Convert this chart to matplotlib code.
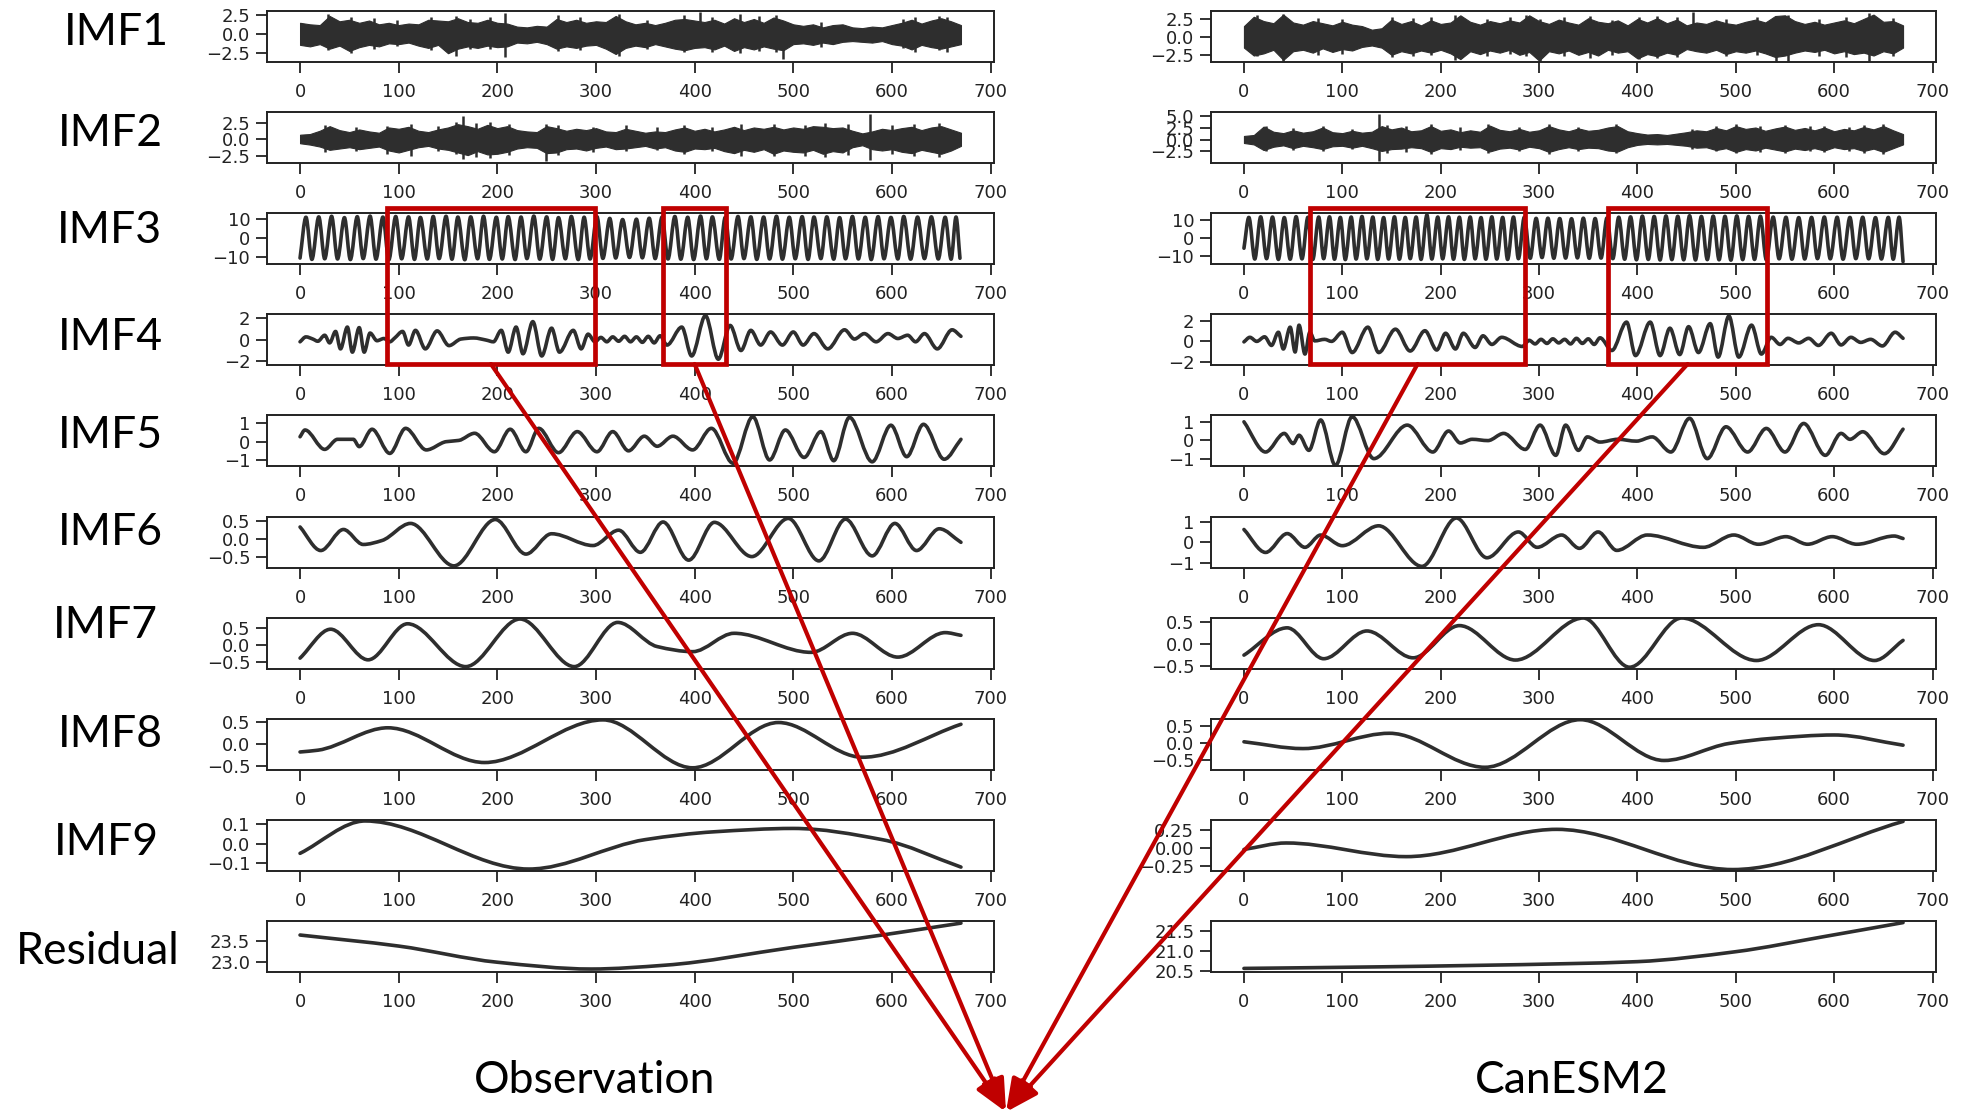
import numpy as np
import matplotlib.pyplot as plt
from matplotlib.path import Path
from matplotlib.patches import PathPatch, Rectangle, FancyArrowPatch

plt.rcParams['font.family'] = 'DejaVu Sans'

W, H = 1968, 1118
INK = '#2e2e2e'
RED = '#c00000'

ROWS = ['IMF1', 'IMF2', 'IMF3', 'IMF4', 'IMF5', 'IMF6', 'IMF7', 'IMF8', 'IMF9', 'Residual']
XTICKS = [0, 100, 200, 300, 400, 500, 600, 700]
GRID = np.arange(0, 671, 10)   # sample positions of the noise envelopes

# ---------------- Observation ----------------
OBS_IMF1_HI = [1.5, 1.3, 1.2, 2.4, 1.7, 1.9, 1.5, 1.8, 1.3, 1.5,
               1.2, 1.4, 1.3, 1.9, 1.8, 1.7, 2.1, 1.6, 1.5, 1.9,
               1.5, 1.4, 1.0, 0.9, 1.1, 1.0, 2.0, 1.6, 1.9, 1.5,
               1.7, 1.6, 2.4, 1.7, 1.3, 1.5, 1.2, 1.5, 1.9, 2.0,
               1.8, 1.6, 1.9, 1.4, 2.1, 1.6, 2.0, 1.5, 2.2, 1.8,
               1.3, 1.1, 1.3, 0.9, 1.2, 1.3, 0.9, 0.8, 1.0, 0.9,
               1.2, 1.5, 1.9, 1.4, 1.8, 2.1, 1.7, 1.2]
OBS_IMF1_LO = [-1.4, -1.6, -1.3, -1.9, -1.5, -2.2, -1.7, -1.4, -1.6, -1.2,
               -1.3, -1.1, -1.5, -1.8, -1.4, -2.5, -1.9, -1.6, -1.8, -1.5,
               -1.7, -1.6, -1.1, -1.2, -1.0, -1.3, -1.9, -1.6, -1.8, -1.5,
               -1.4, -1.9, -2.6, -1.8, -1.5, -1.7, -1.3, -1.6, -1.9, -2.1,
               -1.8, -1.7, -2.0, -1.5, -2.2, -1.7, -2.0, -1.6, -1.9, -2.1,
               -1.3, -1.2, -1.4, -1.1, -1.3, -1.0, -0.9, -1.0, -1.1, -0.9,
               -1.3, -1.5, -2.0, -1.4, -1.7, -1.9, -1.6, -1.3]
OBS_IMF1_SPX = [28, 52, 75, 98, 133, 158, 172, 193, 208, 262, 284, 323, 352,
                389, 405, 418, 446, 465, 482, 490, 528, 611, 623, 648, 656]
OBS_IMF1_SPLO = [-2.1, -2.5, -1.9, -1.6, -2.1, -2.8, -2.0, -1.9, -3.0, -2.2, -2.1, -2.9, -2.0,
                 -2.3, -1.5, -2.4, -2.5, -2.2, -2.3, -3.3, -1.7, -1.8, -2.4, -2.1, -2.3]
OBS_IMF1_SPHI = [2.6, 2.2, 2.1, 1.9, 2.2, 2.4, 2.0, 2.3, 2.8, 2.5, 2.3, 2.7, 1.9,
                 2.5, 2.9, 2.3, 2.6, 2.4, 2.5, 1.5, 1.6, 2.0, 2.3, 2.4, 2.2]

OBS_IMF2_HI = [0.7, 0.8, 1.3, 2.0, 1.4, 1.1, 1.5, 1.2, 1.0, 1.8,
               1.6, 1.9, 1.3, 1.1, 1.5, 1.8, 2.3, 2.0, 1.6, 2.2,
               1.7, 2.0, 1.4, 1.2, 1.1, 2.0, 1.7, 1.3, 1.6, 1.4,
               1.7, 1.2, 1.1, 1.6, 1.3, 1.0, 1.2, 1.1, 1.5, 1.8,
               1.3, 1.6, 1.2, 1.5, 1.9, 1.4, 1.8, 1.6, 1.9, 1.5,
               1.8, 1.6, 2.0, 1.9, 1.7, 1.8, 1.3, 0.9, 1.2, 1.6,
               1.4, 1.7, 1.9, 1.4, 1.8, 2.0, 1.5, 1.0]
OBS_IMF2_LO = [-0.6, -0.8, -1.1, -1.6, -1.4, -1.2, -1.5, -1.3, -1.1, -1.7,
               -2.0, -1.6, -1.2, -1.0, -1.4, -1.6, -2.0, -2.4, -1.8, -2.3,
               -2.2, -1.9, -1.4, -1.2, -1.3, -2.1, -2.0, -1.5, -1.4, -1.7,
               -1.3, -1.1, -1.5, -1.4, -1.2, -1.0, -1.4, -1.2, -1.7, -1.9,
               -1.4, -1.5, -1.3, -1.8, -2.1, -1.6, -1.9, -1.5, -2.2, -1.7,
               -1.9, -2.0, -1.6, -2.2, -1.8, -2.0, -1.2, -0.9, -1.5, -1.7,
               -1.5, -1.9, -2.1, -1.6, -1.9, -2.2, -1.7, -1.0]
OBS_IMF2_SPX = [25, 57, 88, 112, 140, 158, 165, 178, 193, 212, 249, 262, 297,
                330, 362, 389, 418, 447, 480, 512, 532, 555, 578, 600, 622, 648]
OBS_IMF2_SPLO = [-1.9, -1.8, -2.2, -2.5, -1.8, -2.3, -3.0, -2.7, -2.8, -2.4, -3.3, -2.4, -2.0,
                 -1.8, -1.7, -2.3, -1.8, -2.5, -2.6, -2.5, -2.7, -2.4, -3.2, -2.2, -2.6, -2.7]
OBS_IMF2_SPHI = [2.2, 1.9, 2.0, 2.4, 2.0, 2.6, 3.6, 2.5, 2.6, 2.3, 2.4, 2.2, 1.9,
                 2.1, 1.8, 2.2, 1.9, 2.3, 2.4, 2.2, 2.5, 2.3, 3.8, 2.1, 2.4, 2.5]

OBS_IMF3_X = [0, 6, 12, 19, 25, 32, 38, 45, 51, 58, 64, 71, 77, 84, 90, 97, 103, 110, 116, 122,
              129, 135, 141, 148, 154, 160, 167, 173, 180, 186, 192, 199, 205, 211, 218, 224, 230, 237, 243, 250,
              256, 262, 269, 275, 282, 288, 294, 301, 307, 314, 320, 327, 334, 341, 347, 354, 360, 367, 373, 380,
              386, 393, 399, 406, 412, 418, 425, 431, 437, 444, 450, 457, 463, 470, 476, 483, 489, 496, 502, 509,
              515, 521, 528, 534, 541, 547, 553, 560, 566, 573, 579, 586, 592, 599, 606, 612, 619, 626, 633, 640,
              647, 654, 660, 665, 669]
OBS_IMF3_Y = [-10.5, 10.8, -11.2, 11.0, -10.9, 11.3, -11.0, 10.6, -11.3, 11.1, -10.8, 11.4, -11.1, 10.9, -11.4, 11.2, -10.9, 11.0, -11.2, 10.7,
              -11.0, 11.2, -10.8, 11.3, -11.1, 10.9, -11.4, 11.0, -10.9, 11.3, -11.2, 10.8, -11.0, 11.1, -11.3, 10.9, -10.8, 11.4, -11.1, 11.0,
              -11.2, 10.6, -10.9, 11.2, -11.3, 10.8, -11.0, 11.1, -10.7, 10.2, -10.5, 9.6, -10.2, 9.8, -10.4, 10.3, -10.8, 10.9, -11.0, 11.2,
              -11.1, 10.8, -11.3, 11.4, -10.9, 11.0, -11.2, 10.7, -11.0, 11.2, -10.8, 11.0, -11.2, 10.9, -11.0, 11.3, -11.1, 10.8, -10.9, 11.1,
              -11.2, 10.9, -10.8, 11.0, -11.1, 10.6, -10.9, 11.2, -11.0, 10.8, -11.3, 11.1, -10.9, 10.7, -11.0, 11.2, -11.1, 10.9, -10.8, 11.0,
              -11.0, 10.8, -11.1, 10.9, -10.6]

OBS_IMF4_X = [0, 6, 13, 18, 25, 30, 36, 41, 48, 53, 60, 65, 71, 78, 85, 91, 96, 104, 110, 117,
              127, 139, 151, 163, 176, 189, 196, 204, 211, 219, 226, 236, 245, 255, 263, 277, 285, 292, 299, 305,
              311, 317, 323, 329, 335, 341, 347, 353, 359, 365, 372, 387, 397, 411, 424, 436, 447, 457, 467, 477,
              489, 500, 510, 521, 535, 552, 562, 572, 584, 596, 606, 616, 624, 633, 646, 661, 670]
OBS_IMF4_Y = [-0.2, 0.25, 0.05, -0.15, 0.4, -0.3, 0.75, -0.85, 1.15, -1.15, 1.1, -1.15, 0.6, -0.1, 0.1, -0.2, 0.15, 0.75, -0.5, 0.85,
              -0.85, 0.8, -0.55, 0.05, 0.15, -0.05, -0.2, 0.85, -1.15, 1.15, -1.3, 1.65, -1.5, 1.05, -1.15, 0.85, -0.85, 0.5, -0.2, 0.2,
              -0.2, 0.25, -0.15, 0.3, -0.2, 0.25, -0.25, 0.3, -0.3, 0.35, -0.5, 1.15, -1.5, 2.2, -1.8, 1.3, -1.0, 0.85, -0.5, 0.7,
              -0.5, 0.7, -0.5, 0.55, -0.85, 0.9, 0.05, 0.55, -0.2, 0.55, 0.1, 0.4, -0.2, 0.55, -0.85, 0.9, 0.3]

OBS_IMF5_X = [0, 5, 25, 38, 54, 60, 73, 91, 107, 128, 148, 161, 177, 197, 213, 229, 242, 262, 281, 301,
              317, 333, 349, 362, 378, 398, 417, 439, 459, 476, 492, 511, 528, 541, 557, 580, 599, 615, 632, 653, 670]
OBS_IMF5_Y = [0.27, 0.64, -0.42, 0.13, 0.13, -0.27, 0.68, -0.64, 0.73, -0.45, 0.0, 0.07, 0.46, -0.55, 0.68, -0.55, 0.73, -0.6, 0.55, -0.55,
              0.55, -0.5, 0.3, -0.25, 0.3, -0.45, 0.73, -1.18, 1.37, -1.0, 0.64, -0.86, 0.55, -1.04, 1.33, -1.1, 0.9, -0.82, 0.95, -0.96, 0.13]

OBS_IMF6_X = [0, 21, 44, 64, 83, 112, 156, 198, 229, 255, 297, 323, 345, 368, 394, 420, 458, 495, 526, 553, 580, 603, 625, 648, 670]
OBS_IMF6_Y = [0.33, -0.33, 0.26, -0.16, -0.05, 0.43, -0.76, 0.54, -0.43, 0.14, -0.19, 0.24, -0.38, 0.47, -0.6, 0.46, -0.5, 0.57, -0.62, 0.55,
              -0.48, 0.43, -0.33, 0.28, -0.1]

OBS_IMF7_X = [0, 31, 69, 109, 168, 223, 278, 322, 362, 398, 440, 518, 560, 606, 654, 670]
OBS_IMF7_Y = [-0.39, 0.46, -0.44, 0.62, -0.64, 0.76, -0.64, 0.66, -0.05, -0.2, 0.34, -0.22, 0.34, -0.36, 0.36, 0.28]

OBS_IMF8_X = [0, 18, 89, 187, 307, 398, 485, 570, 670]
OBS_IMF8_Y = [-0.18, -0.14, 0.37, -0.42, 0.55, -0.54, 0.49, -0.3, 0.45]

OBS_IMF9_X = [0, 66, 232, 350, 420, 500, 590, 670]
OBS_IMF9_Y = [-0.05, 0.115, -0.13, 0.02, 0.06, 0.077, 0.02, -0.12]

OBS_RES_X = [0, 100, 200, 295, 370, 500, 590, 670]
OBS_RES_Y = [23.64, 23.38, 23.0, 22.84, 22.93, 23.35, 23.64, 23.92]

# ---------------- CanESM2 ----------------
CAN_IMF1_HI = [1.5, 2.8, 2.2, 1.9, 3.1, 2.0, 1.7, 2.2, 1.9, 1.6,
               2.1, 1.7, 1.5, 1.0, 1.2, 2.4, 1.8, 2.2, 1.6, 2.3,
               1.8, 2.0, 3.0, 2.1, 1.7, 2.2, 1.9, 2.3, 2.0, 3.0,
               2.2, 1.8, 2.4, 2.0, 1.7, 2.6, 2.1, 1.9, 2.3, 1.6,
               2.5, 2.0, 2.6, 1.9, 2.4, 1.6, 2.0, 1.8, 2.3, 1.9,
               1.7, 2.1, 2.4, 2.0, 2.9, 3.0, 2.2, 1.8, 2.1, 1.7,
               2.0, 2.3, 1.9, 2.5, 3.1, 2.1, 2.2, 1.6]
CAN_IMF1_LO = [-1.5, -2.6, -2.3, -1.8, -3.2, -2.0, -1.8, -2.2, -1.6, -2.1,
               -1.7, -1.9, -1.4, -1.2, -1.5, -2.5, -2.0, -2.3, -1.9, -2.2,
               -1.8, -2.3, -3.1, -2.0, -2.4, -1.9, -2.2, -1.8, -2.5, -2.1,
               -3.3, -2.0, -2.3, -1.9, -2.5, -2.1, -2.6, -1.8, -2.2, -2.0,
               -3.0, -2.4, -2.7, -2.2, -2.5, -1.7, -2.0, -2.2, -1.8, -2.4,
               -2.0, -2.2, -1.9, -2.3, -2.8, -2.6, -2.2, -1.9, -2.1, -1.8,
               -2.3, -2.0, -2.4, -2.2, -2.6, -2.0, -2.3, -1.5]
CAN_IMF1_SPX = [13, 40, 75, 100, 150, 172, 190, 215, 247, 270, 287, 301, 325, 352,
                374, 402, 420, 440, 456, 490, 522, 541, 553, 585, 612, 635, 660]
CAN_IMF1_SPLO = [-2.6, -3.4, -2.5, -2.4, -2.8, -2.6, -2.5, -3.2, -2.7, -2.4, -2.6, -3.4, -2.7, -2.9,
                 -2.5, -3.1, -2.9, -2.8, -1.5, -2.6, -2.5, -3.4, -3.3, -2.6, -2.8, -3.4, -2.7]
CAN_IMF1_SPHI = [3.1, 3.2, 2.6, 2.5, 2.8, 2.6, 2.7, 3.1, 2.5, 2.7, 3.1, 2.5, 2.8, 2.9,
                 2.4, 2.7, 2.9, 2.8, 3.4, 2.5, 2.8, 2.8, 3.0, 2.5, 2.7, 3.3, 2.6]

CAN_IMF2_HI = [0.8, 1.0, 2.8, 1.7, 1.4, 2.0, 1.5, 1.8, 2.6, 1.6,
               1.4, 1.9, 1.5, 1.7, 2.9, 2.2, 2.6, 1.8, 2.0, 2.9,
               1.9, 2.2, 1.6, 2.0, 1.7, 3.0, 2.1, 1.8, 2.3, 1.7,
               2.0, 2.9, 2.2, 1.8, 2.4, 1.9, 2.1, 2.6, 2.9, 1.8,
               1.4, 1.1, 1.2, 1.0, 1.3, 1.6, 2.0, 1.8, 2.5, 2.0,
               2.9, 2.3, 2.6, 1.9, 2.4, 2.8, 2.1, 2.5, 2.0, 2.6,
               1.8, 2.3, 2.0, 2.7, 2.2, 2.9, 2.0, 1.2]
CAN_IMF2_LO = [-0.7, -1.0, -2.2, -1.5, -1.2, -1.8, -1.3, -1.6, -2.0, -1.4,
               -1.3, -1.7, -1.3, -1.8, -2.4, -2.0, -1.9, -1.6, -1.8, -2.6,
               -1.8, -2.0, -1.5, -1.7, -1.6, -2.5, -1.9, -1.7, -2.1, -1.5,
               -1.8, -2.6, -2.0, -1.6, -2.0, -1.7, -1.8, -2.3, -2.5, -1.6,
               -1.1, -0.9, -1.0, -0.9, -1.1, -1.3, -1.7, -1.6, -2.2, -1.8,
               -2.6, -2.0, -2.3, -1.7, -2.1, -2.5, -1.9, -2.2, -1.8, -2.3,
               -1.6, -2.0, -1.8, -2.4, -1.9, -2.6, -1.8, -1.0]
CAN_IMF2_SPX = [22, 50, 80, 110, 137, 145, 165, 190, 220, 248, 280, 310,
                340, 378, 455, 480, 500, 525, 550, 575, 590, 615, 630, 650]
CAN_IMF2_SPLO = [-2.5, -2.1, -2.4, -2.0, -4.5, -2.9, -2.6, -3.0, -2.2, -2.9, -2.4, -3.0,
                 -2.4, -2.9, -1.9, -2.5, -2.9, -2.6, -2.8, -2.5, -2.7, -2.3, -2.8, -3.0]
CAN_IMF2_SPHI = [3.0, 2.4, 2.9, 2.2, 5.4, 3.2, 3.0, 3.3, 2.6, 3.4, 2.7, 3.3,
                 2.8, 3.3, 2.2, 2.9, 3.3, 3.0, 3.2, 2.9, 3.0, 2.7, 3.1, 3.3]

CAN_IMF3_X = [0, 5, 11, 17, 23, 29, 35, 41, 47, 53, 59, 65, 70, 76, 81, 87, 92, 98, 103, 109,
              114, 120, 125, 131, 136, 142, 147, 153, 158, 164, 169, 175, 180, 186, 191, 197, 202, 208, 213, 219,
              224, 230, 235, 241, 246, 252, 257, 263, 268, 274, 279, 285, 291, 297, 303, 309, 315, 321, 327, 333,
              339, 345, 351, 357, 363, 369, 375, 381, 387, 393, 399, 405, 411, 417, 423, 429, 435, 441, 447, 453,
              459, 465, 471, 477, 483, 489, 495, 501, 507, 513, 519, 525, 531, 538, 544, 551, 557, 564, 570, 577,
              583, 590, 596, 603, 609, 616, 622, 629, 635, 642, 648, 655, 660, 666, 670]
CAN_IMF3_Y = [-5.5, 11.3, -11.4, 11.6, -11.2, 11.5, -11.6, 11.2, -11.5, 11.7, -11.3, 11.4, -11.6, 11.5, -11.2, 11.6, -11.5, 11.3, -11.7, 11.5,
              -11.4, 11.8, -11.3, 11.5, -11.6, 11.2, -11.4, 11.6, -11.5, 11.3, -11.2, 11.5, -11.6, 12.6, -11.4, 11.5, -11.3, 11.6, -11.5, 11.4,
              -11.6, 11.5, -11.3, 11.2, -11.5, 11.6, -11.4, 11.3, -11.6, 11.5, -11.2, 11.4, -11.0, 10.8, -10.6, 10.9, -11.0, 10.7, -10.9, 10.6,
              -10.8, 10.9, -11.0, 10.7, -10.9, 11.0, -11.2, 11.4, -11.5, 11.6, -11.8, 12.0, -11.6, 11.8, -11.9, 12.1, -11.7, 11.9, -11.8, 12.2,
              -11.9, 11.8, -11.7, 12.0, -11.8, 11.9, -12.0, 12.1, -11.7, 11.8, -11.6, 11.9, -11.8, 11.5, -11.3, 11.4, -11.5, 11.2, -11.4, 11.3,
              -11.2, 11.5, -11.3, 11.4, -11.5, 11.3, -11.2, 11.4, -11.3, 11.2, -11.4, 11.3, -11.5, 11.4, -12.8]

CAN_IMF4_X = [0, 6, 13, 21, 28, 35, 40, 47, 52, 56, 62, 67, 72, 82, 89, 100, 110, 126, 137, 154,
              169, 184, 196, 205, 215, 223, 235, 243, 252, 262, 283, 290, 296, 302, 308, 314, 320, 326, 332, 338,
              344, 350, 356, 362, 374, 389, 398, 413, 423, 433, 443, 452, 462, 474, 482, 493, 503, 516, 526, 536,
              545, 553, 564, 574, 584, 597, 607, 617, 627, 637, 649, 662, 670]
CAN_IMF4_Y = [-0.05, 0.4, 0.0, 0.45, -0.4, 0.9, -0.75, 1.4, -1.05, 1.6, -1.25, 0.9, 0.05, 0.2, 0.0, 0.9, -1.1, 1.4, -1.1, 1.2,
              -0.95, 1.05, -0.85, 0.8, -0.75, 0.8, -0.6, 0.55, -0.3, 0.4, -0.5, 0.1, -0.25, 0.2, -0.2, 0.25, -0.15, 0.2, -0.25, 0.3,
              -0.2, 0.25, -0.3, 0.35, -0.9, 1.9, -1.4, 1.9, -1.4, 1.3, -1.3, 1.45, -1.1, 1.75, -1.55, 2.5, -1.55, 1.6, -1.25, 0.4,
              -0.3, 0.3, -0.15, 0.3, -0.4, 0.8, -0.35, 0.4, -0.1, 0.2, -0.45, 0.9, 0.3]

CAN_IMF5_X = [0, 22, 41, 50, 56, 66, 78, 93, 110, 132, 166, 192, 208, 220, 232, 248, 264, 286, 301, 317,
              327, 340, 349, 362, 380, 399, 415, 434, 453, 471, 490, 512, 531, 550, 569, 591, 607, 616, 629, 651, 670]
CAN_IMF5_Y = [1.0, -0.64, 0.37, -0.18, 0.27, -0.55, 1.1, -1.37, 1.28, -1.0, 0.82, -0.64, 0.5, -0.15, 0.05, -0.02, 0.37, -0.5, 0.82, -0.82,
              0.82, -0.55, 0.18, -0.1, 0.05, -0.05, 0.18, -0.64, 1.19, -1.0, 0.73, -0.64, 0.64, -0.64, 0.91, -0.82, 0.37, 0.05, 0.46, -0.73, 0.6]

CAN_IMF6_X = [0, 22, 44, 62, 78, 100, 137, 181, 216, 247, 279, 298, 323, 341, 360, 379, 410, 467, 498, 523, 551, 573, 598, 623, 661, 670]
CAN_IMF6_Y = [0.62, -0.5, 0.42, -0.25, 0.35, -0.17, 0.8, -1.18, 1.18, -0.76, 0.5, -0.25, 0.35, -0.3, 0.5, -0.4, 0.35, -0.25, 0.35, -0.1,
              0.27, -0.1, 0.27, -0.1, 0.3, 0.18]

CAN_IMF7_X = [0, 44, 81, 125, 172, 219, 276, 345, 392, 445, 521, 584, 641, 670]
CAN_IMF7_Y = [-0.25, 0.36, -0.33, 0.29, -0.31, 0.41, -0.36, 0.58, -0.52, 0.58, -0.37, 0.43, -0.37, 0.08]

CAN_IMF8_X = [0, 60, 148, 245, 342, 427, 493, 537, 600, 670]
CAN_IMF8_Y = [0.05, -0.15, 0.3, -0.7, 0.7, -0.5, 0.0, 0.15, 0.25, -0.05]

CAN_IMF9_X = [0, 43, 165, 318, 497, 670]
CAN_IMF9_Y = [-0.02, 0.07, -0.12, 0.26, -0.3, 0.37]

CAN_RES_X = [0, 140, 330, 400, 500, 590, 670]
CAN_RES_Y = [20.56, 20.6, 20.68, 20.73, 20.98, 21.36, 21.71]

# axis ranges and tick values of each panel, top to bottom
OBS_YLIM = [(-3.65, 3.05), (-3.6, 4.15), (-13.6, 13.0), (-2.33, 2.35), (-1.33, 1.46),
            (-0.82, 0.61), (-0.71, 0.79), (-0.59, 0.57), (-0.14, 0.12), (22.77, 23.97)]
OBS_YTICKS = [[-2.5, 0, 2.5], [-2.5, 0, 2.5], [-10, 0, 10], [-2, 0, 2], [-1, 0, 1],
              [-0.5, 0, 0.5], [-0.5, 0, 0.5], [-0.5, 0, 0.5], [-0.1, 0, 0.1], [23.0, 23.5]]
CAN_YLIM = [(-3.5, 3.6), (-4.96, 5.9), (-14.1, 13.7), (-2.33, 2.7), (-1.4, 1.37),
            (-1.26, 1.23), (-0.56, 0.58), (-0.78, 0.72), (-0.32, 0.39), (20.47, 21.75)]
CAN_YTICKS = [[-2.5, 0, 2.5], [-2.5, 0, 2.5, 5], [-10, 0, 10], [-2, 0, 2], [-1, 0, 1],
              [-1, 0, 1], [-0.5, 0, 0.5], [-0.5, 0, 0.5], [-0.25, 0, 0.25], [20.5, 21.0, 21.5]]

# highlighted windows (x range in samples) on IMF3/IMF4
OBS_WINDOWS = [(88, 299), (368, 432)]
CAN_WINDOWS = [(67, 286), (370, 532)]

OBS_BANDS = [(OBS_IMF1_HI, OBS_IMF1_LO, OBS_IMF1_SPX, OBS_IMF1_SPLO, OBS_IMF1_SPHI),
             (OBS_IMF2_HI, OBS_IMF2_LO, OBS_IMF2_SPX, OBS_IMF2_SPLO, OBS_IMF2_SPHI)]
OBS_CURVES = [(OBS_IMF3_X, OBS_IMF3_Y), (OBS_IMF4_X, OBS_IMF4_Y), (OBS_IMF5_X, OBS_IMF5_Y),
              (OBS_IMF6_X, OBS_IMF6_Y), (OBS_IMF7_X, OBS_IMF7_Y), (OBS_IMF8_X, OBS_IMF8_Y),
              (OBS_IMF9_X, OBS_IMF9_Y), (OBS_RES_X, OBS_RES_Y)]
CAN_BANDS = [(CAN_IMF1_HI, CAN_IMF1_LO, CAN_IMF1_SPX, CAN_IMF1_SPLO, CAN_IMF1_SPHI),
             (CAN_IMF2_HI, CAN_IMF2_LO, CAN_IMF2_SPX, CAN_IMF2_SPLO, CAN_IMF2_SPHI)]
CAN_CURVES = [(CAN_IMF3_X, CAN_IMF3_Y), (CAN_IMF4_X, CAN_IMF4_Y), (CAN_IMF5_X, CAN_IMF5_Y),
              (CAN_IMF6_X, CAN_IMF6_Y), (CAN_IMF7_X, CAN_IMF7_Y), (CAN_IMF8_X, CAN_IMF8_Y),
              (CAN_IMF9_X, CAN_IMF9_Y), (CAN_RES_X, CAN_RES_Y)]


def smooth_path(xs, ys):
    # monotone cubic through the turning points, written as Bezier segments
    x = np.asarray(xs, float)
    y = np.asarray(ys, float)
    h = np.diff(x)
    d = np.diff(y) / h
    m = np.zeros_like(y)
    m[0], m[-1] = d[0], d[-1]
    for i in range(1, len(y) - 1):
        if d[i - 1] * d[i] > 0:
            w1, w2 = 2 * h[i] + h[i - 1], h[i] + 2 * h[i - 1]
            m[i] = (w1 + w2) / (w1 / d[i - 1] + w2 / d[i])
    verts, codes = [(x[0], y[0])], [Path.MOVETO]
    for i in range(len(h)):
        verts += [(x[i] + h[i] / 3, y[i] + m[i] * h[i] / 3),
                  (x[i + 1] - h[i] / 3, y[i + 1] - m[i + 1] * h[i] / 3),
                  (x[i + 1], y[i + 1])]
        codes += [Path.CURVE4] * 3
    return Path(verts, codes)


def px(x, y):
    return x / W, 1 - y / H


fig = plt.figure(figsize=(W / 100, H / 100), dpi=100)

ROW_TOPS = [11, 112, 213, 314, 415, 517, 618, 719, 820, 921]
AX_H = 51
columns = [(267, 727, OBS_BANDS, OBS_CURVES, OBS_YLIM, OBS_YTICKS),
           (1211, 725, CAN_BANDS, CAN_CURVES, CAN_YLIM, CAN_YTICKS)]

col_axes = []
for left, width, bands, curves, ylims, yticks in columns:
    axes = []
    for r in range(len(ROWS)):
        top = ROW_TOPS[r]
        ax = fig.add_axes([left / W, 1 - (top + AX_H) / H, width / W, AX_H / H])
        if r < 2:
            hi, lo, sx, slo, shi = bands[r]
            ax.fill_between(GRID, lo, hi, color=INK, lw=0.8)
            ax.vlines(sx, slo, shi, color=INK, lw=1.8)
        else:
            cx, cy = curves[r - 2]
            ax.add_patch(PathPatch(smooth_path(cx, cy), fill=False, ec=INK, lw=2.6,
                                   capstyle='round', joinstyle='round'))
        ax.set_xlim(-33.5, 703.5)
        ax.set_ylim(*ylims[r])
        ax.set_xticks(XTICKS)
        ax.set_yticks(yticks[r])
        ax.tick_params(axis='both', length=8, width=1.3, labelsize=13, colors='#222222')
        ax.tick_params(axis='x', pad=7)
        ax.tick_params(axis='y', pad=4)
        for s in ax.spines.values():
            s.set_linewidth(1.4)
            s.set_color('#222222')
        axes.append(ax)
    col_axes.append(axes)

# row names on the left
LABEL_X = [116, 110, 109, 110, 110, 110, 105, 110, 106, 98]
LABEL_BASE = [45, 146, 243, 350, 448, 545, 638, 747, 855, 964]
for name, lx, ly in zip(ROWS, LABEL_X, LABEL_BASE):
    fig.text(*px(lx, ly), name, ha='center', va='baseline', fontsize=32, family='Lato')

fig.text(*px(595, 1093), 'Observation', ha='center', va='baseline', fontsize=32, family='Lato')
fig.text(*px(1572, 1093), 'CanESM2', ha='center', va='baseline', fontsize=32, family='Lato')

# red windows spanning IMF3-IMF4 and arrows to the common point below
to_fig = fig.transFigure.inverted()
tip = px(1006, 1112)
BOX_TOP, BOX_BOT = 208, 364
for axes, windows in zip(col_axes, [OBS_WINDOWS, CAN_WINDOWS]):
    for x0, x1 in windows:
        fx0 = to_fig.transform(axes[2].transData.transform((x0, 0)))[0]
        fx1 = to_fig.transform(axes[2].transData.transform((x1, 0)))[0]
        ftop = 1 - BOX_TOP / H
        fbot = 1 - BOX_BOT / H
        fig.add_artist(Rectangle((fx0, fbot), fx1 - fx0, ftop - fbot, transform=fig.transFigure,
                                 fill=False, ec=RED, lw=3.4, zorder=10))
        fig.add_artist(FancyArrowPatch(((fx0 + fx1) / 2, fbot), tip, transform=fig.transFigure,
                                       arrowstyle='-|>,head_length=1.0,head_width=0.35',
                                       mutation_scale=20, color=RED, lw=3.0,
                                       shrinkA=0, shrinkB=0, zorder=10))

fig.savefig('out.png', dpi=100)
